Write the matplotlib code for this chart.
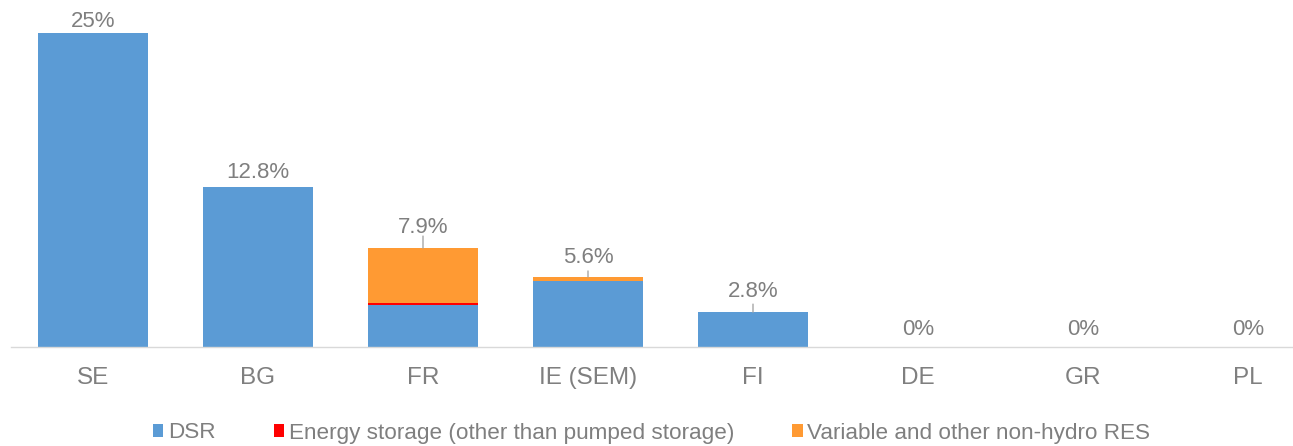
import matplotlib
matplotlib.use("Agg")
import matplotlib.pyplot as plt
import numpy as np

# Share of capacity by technology type, per bidding zone (%)
categories = ["SE", "BG", "FR", "IE (SEM)", "FI", "DE", "GR", "PL"]
dsr = [25.0, 12.8, 3.4, 5.25, 2.8, 0.0, 0.0, 0.0]
energy_storage = [0.0, 0.0, 0.15, 0.0, 0.0, 0.0, 0.0, 0.0]
variable_res = [0.0, 0.0, 4.35, 0.35, 0.0, 0.0, 0.0, 0.0]
total_labels = ["25%", "12.8%", "7.9%", "5.6%", "2.8%", "0%", "0%", "0%"]
series_names = ["DSR", "Energy storage (other than pumped storage)",
                "Variable and other non-hydro RES"]

# Layout of the value labels: gap above the bar top and leader length (pixels)
label_gap_px = [6, 9, 15, 14, 15, 12, 12, 12]
leader_px = [0, 0, 12, 6, 8, 0, 0, 0]

colors = ["#5B9BD5", "#FF0000", "#FF9A33"]
text_color = "#7F7F7F"

plt.rcParams["font.family"] = ["Liberation Sans", "DejaVu Sans"]

W, H, DPI = 1293, 446, 100
fig = plt.figure(figsize=(W / DPI, H / DPI), dpi=DPI)
px = 72.0 / DPI  # points per pixel

left_px, base_px, step_px = 10.5, 347.3, 165.0
ax = fig.add_axes([left_px / W, (H - base_px) / H, 8 * step_px / W, base_px / H])

x = np.arange(len(categories))
width = 0.667
dsr_a = np.array(dsr)
es_a = np.array(energy_storage)
var_a = np.array(variable_res)

ax.bar(x, dsr_a, width, color=colors[0], label=series_names[0], linewidth=0)
ax.bar(x, es_a, width, bottom=dsr_a, color=colors[1], label=series_names[1],
       linewidth=0)
ax.bar(x, var_a, width, bottom=dsr_a + es_a, color=colors[2],
       label=series_names[2], linewidth=0)

ax.set_xlim(-0.5, len(categories) - 0.5)
ax.set_ylim(0, base_px / 12.56)

totals = dsr_a + es_a + var_a
for xi, tot, lab, gap, lead in zip(x, totals, total_labels, label_gap_px, leader_px):
    ax.annotate(lab, (xi, tot), xytext=(0, gap * px), textcoords="offset points",
                ha="center", va="baseline", fontsize=16, color=text_color)
    if lead > 0:
        ax.annotate("", (xi, tot), xytext=(0, lead * px), textcoords="offset points",
                    arrowprops=dict(arrowstyle="-", color="#A6A6A6", lw=1,
                                    shrinkA=0, shrinkB=0))

for side in ["top", "right", "left"]:
    ax.spines[side].set_visible(False)
ax.spines["bottom"].set_color("#D9D9D9")
ax.spines["bottom"].set_linewidth(1)
ax.set_yticks([])
ax.set_xticks(x)
ax.set_xticklabels(categories, fontsize=17.5, color=text_color)
ax.tick_params(axis="x", length=0, pad=14)

handles, labels = ax.get_legend_handles_labels()
fig.legend(handles, labels, loc="center", bbox_to_anchor=(0.504, 1 - 433 / H),
           ncol=3, frameon=False, fontsize=16.2, labelcolor=text_color,
           handlelength=0.45, handleheight=0.45, handletextpad=0.2,
           columnspacing=2.6)

fig.savefig("out.png", dpi=DPI)
